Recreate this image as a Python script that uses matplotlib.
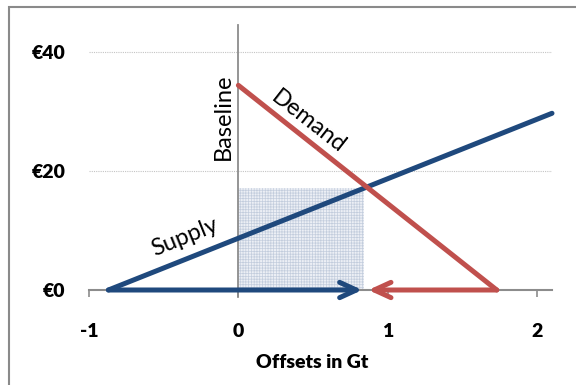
import matplotlib
matplotlib.use("Agg")
import matplotlib.pyplot as plt
from matplotlib.patches import Rectangle

plt.rcParams['font.family'] = ['Lato', 'DejaVu Sans']
plt.rcParams['hatch.linewidth'] = 0.5

# data
supply_x = [-0.87, 2.1]
supply_y = [0.0, 29.7]
demand_x = [0.0, 1.73]
demand_y = [34.4, 0.0]
offset_x = [0.0, 0.84]
offset_price = 17.2
blue_arrow = [-0.87, 0.83]
red_arrow = [1.73, 0.87]
x_ticks = [-1, 0, 1, 2]
x_labels = ['-1', '0', '1', '2']
y_ticks = [0, 20, 40]
y_labels = ['€0', '€20', '€40']

BLUE = '#1f497d'
RED = '#c0504d'
GRAY = '#8c8c8c'

W, H = 576, 385
fig = plt.figure(figsize=(W / 100, H / 100), dpi=100)
xmin, xmax = -1.0, 2.1
ymin, ymax = -2.0, 44.5
left_px, right_px = 89, 552
ppu_y = 5.95
top_px = 290 - ymax * ppu_y
bot_px = 290 - ymin * ppu_y
ax = fig.add_axes([left_px / W, 1 - bot_px / H, (right_px - left_px) / W, (bot_px - top_px) / H])
ax.set_xlim(xmin, xmax)
ax.set_ylim(ymin, ymax)

for s in ['top', 'right', 'left']:
    ax.spines[s].set_visible(False)
ax.spines['bottom'].set_position(('data', 0))
ax.spines['bottom'].set_color(GRAY)
ax.spines['bottom'].set_linewidth(1.5)

ax.set_xticks(x_ticks)
ax.set_xticklabels(x_labels, fontsize=14, fontweight='heavy')
ax.tick_params(axis='x', length=5, width=1.2, color=GRAY, pad=19)
ax.set_yticks(y_ticks)
ax.set_yticklabels(y_labels, fontsize=14, fontweight='heavy')
ax.tick_params(axis='y', length=0, pad=17)

# gridlines
ax.hlines([20, 40], xmin, xmax, colors='#c4c4c4', linestyles=(0, (1, 1)), lw=0.8, zorder=1)
# baseline vertical axis at 0
ax.plot([0, 0], [-1.2, ymax], color=GRAY, lw=1.3, zorder=2, clip_on=False)

# shaded offset area
ax.add_patch(Rectangle((offset_x[0], 0), offset_x[1] - offset_x[0], offset_price,
                       facecolor='#eceff5', edgecolor='#c3cddd', hatch='++++++', lw=0, zorder=1.5))

# supply & demand
ax.plot(supply_x, supply_y, color=BLUE, lw=3.6, solid_capstyle='round', zorder=4, clip_on=False)
ax.plot(demand_x, demand_y, color=RED, lw=3.6, solid_capstyle='round', zorder=4, clip_on=False)

# arrows
ax.annotate('', xy=(blue_arrow[1], 0), xytext=(blue_arrow[0], 0),
            arrowprops=dict(arrowstyle='->,head_length=1.2,head_width=0.55', color=BLUE, lw=3.6,
                            shrinkA=0, shrinkB=0), zorder=5, annotation_clip=False)
ax.annotate('', xy=(red_arrow[1], 0), xytext=(red_arrow[0], 0),
            arrowprops=dict(arrowstyle='->,head_length=1.2,head_width=0.55', color=RED, lw=3.6,
                            shrinkA=0, shrinkB=0), zorder=5, annotation_clip=False)

# labels
ax.text(-0.36, 8.8, 'Supply', rotation=22, fontsize=17, ha='center', va='center')
ax.text(0.47, 28.2, 'Demand', rotation=-38, fontsize=17, ha='center', va='center')
ax.text(-0.10, 29.2, 'Baseline', rotation=90, fontsize=17, ha='center', va='center')

fig.text(312 / W, 1 - 362 / H, 'Offsets in Gt', fontsize=14, fontweight='heavy', ha='center', va='center')

# outer frame
fig.add_artist(Rectangle((8.5 / W, -0.1), 1.2, 1 - 6.5 / H + 0.1, transform=fig.transFigure,
                         fill=False, edgecolor='#8a8a8a', lw=1.5))

fig.savefig('out.png', dpi=100)
